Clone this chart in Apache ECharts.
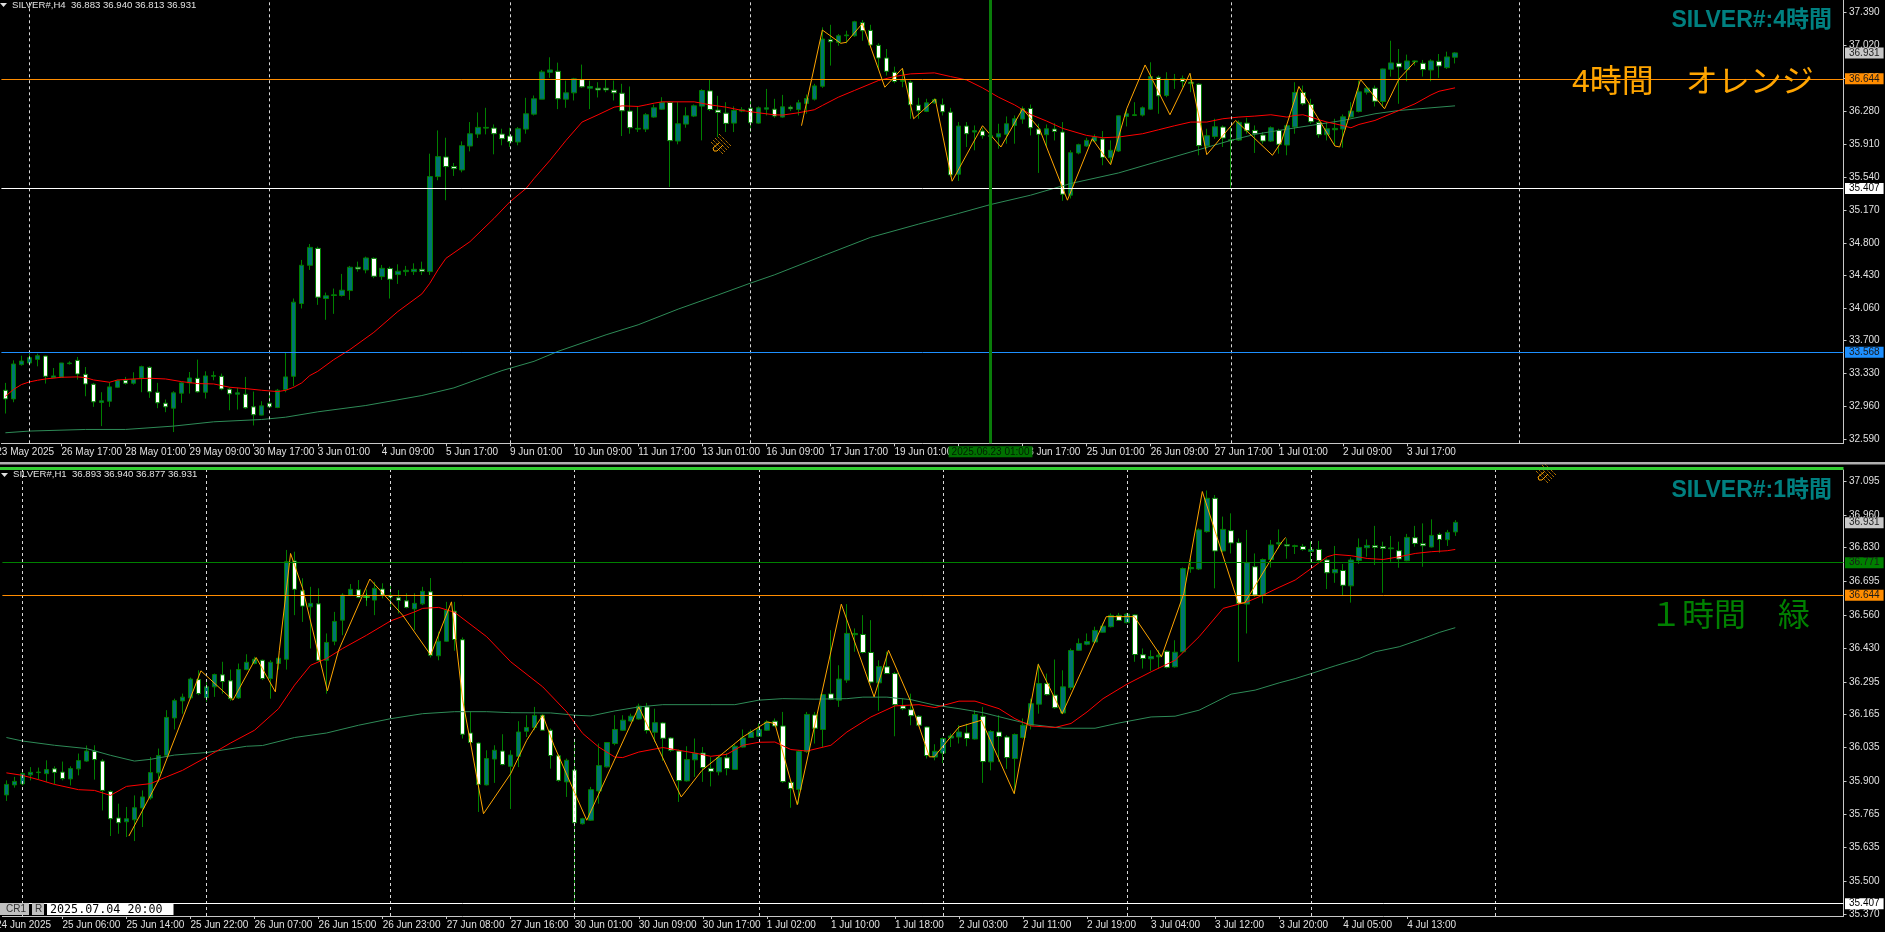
<!DOCTYPE html>
<html><head><meta charset="utf-8"><title>SILVER# H4 / H1</title>
<style>html,body{margin:0;padding:0;background:#000;overflow:hidden}#c{width:1885px;height:932px}</style>
<script src="https://cdn.jsdelivr.net/npm/echarts@6/dist/echarts.min.js"></script></head>
<body><div id="c"></div>
<script>
// ---------- H4 candles ----------
const h4Open=[33.144,33.047,33.432,33.450,33.491,33.528,33.286,33.290,33.443,33.480,
33.323,33.212,33.007,33.021,33.178,33.256,33.223,33.282,33.402,33.122,
32.999,32.943,33.111,33.227,33.279,33.122,33.301,33.301,33.156,33.100,
33.100,32.958,32.865,32.999,32.951,33.152,33.301,34.118,34.547,34.737,
34.174,34.208,34.208,34.263,34.525,34.495,34.625,34.420,34.510,34.443,
34.476,34.476,34.502,34.476,35.543,35.763,35.655,35.617,35.886,36.020,
36.087,36.087,36.020,35.998,35.931,36.076,36.244,36.412,36.714,36.725,
36.412,36.483,36.632,36.535,36.535,36.535,36.513,36.479,36.278,36.076,
36.076,36.211,36.300,36.375,35.942,36.132,36.222,36.334,36.505,36.289,
36.255,36.143,36.278,36.311,36.143,36.300,36.300,36.211,36.322,36.296,
36.364,36.412,36.557,37.080,37.050,37.124,37.124,37.270,37.184,37.016,
36.874,36.714,36.613,36.602,36.345,36.274,36.371,36.349,36.266,35.569,
36.110,36.043,36.054,35.994,35.987,36.017,36.117,36.188,36.307,36.076,
36.013,36.076,36.043,35.334,35.808,35.886,35.942,35.964,35.755,35.830,
36.218,36.229,36.233,36.300,36.658,36.453,36.628,36.643,36.602,36.580,
35.886,35.994,36.099,35.946,35.953,36.143,36.061,36.009,35.942,36.061,
35.897,36.099,36.487,36.352,36.151,36.013,36.069,36.076,36.211,36.274,
36.490,36.535,36.386,36.748,36.815,36.744,36.830,36.815,36.740,36.837,36.766,36.883];
const h4Close=[33.047,33.439,33.472,33.510,33.532,33.301,33.305,33.450,33.450,33.327,
33.215,33.014,33.025,33.182,33.253,33.223,33.264,33.409,33.126,33.003,
32.958,33.115,33.227,33.282,33.126,33.305,33.309,33.159,33.104,33.115,
32.947,32.869,32.969,32.958,33.144,33.294,34.133,34.547,34.748,34.189,
34.204,34.215,34.267,34.525,34.506,34.629,34.424,34.513,34.390,34.480,
34.491,34.502,34.480,35.543,35.767,35.655,35.632,35.890,36.024,36.095,
36.095,36.024,35.968,35.935,36.080,36.248,36.416,36.718,36.740,36.416,
36.483,36.640,36.550,36.554,36.516,36.516,36.483,36.281,36.091,36.084,
36.237,36.315,36.375,35.946,36.136,36.225,36.337,36.509,36.296,36.263,
36.140,36.285,36.293,36.147,36.315,36.315,36.222,36.326,36.304,36.371,
36.419,36.561,37.087,37.057,37.124,37.132,37.281,37.180,37.020,36.874,
36.725,36.610,36.621,36.349,36.281,36.371,36.408,36.270,35.562,36.110,
36.024,36.058,36.002,36.005,36.024,36.136,36.192,36.307,36.091,36.017,
36.080,36.050,35.345,35.811,35.901,35.949,35.987,35.759,35.838,36.225,
36.248,36.237,36.315,36.666,36.449,36.636,36.636,36.610,36.587,35.890,
36.002,36.102,35.976,35.957,36.151,36.058,36.024,35.942,36.091,35.905,
36.114,36.487,36.360,36.158,36.013,36.080,36.084,36.214,36.278,36.494,
36.535,36.389,36.751,36.819,36.774,36.841,36.841,36.744,36.841,36.785,36.886,36.931];
const h4High=[33.227,33.480,33.532,33.555,33.555,33.532,33.394,33.450,33.469,33.518,
33.405,33.227,33.122,33.234,33.264,33.294,33.346,33.420,33.413,33.227,
33.040,33.133,33.238,33.349,33.488,33.357,33.357,33.331,33.171,33.171,
33.294,33.130,33.021,33.133,33.159,33.570,34.174,34.607,34.786,34.756,
34.241,34.286,34.450,34.540,34.588,34.644,34.636,34.551,34.532,34.558,
34.540,34.569,34.588,35.800,36.061,35.979,35.696,35.938,36.155,36.263,
36.315,36.128,36.080,36.091,36.099,36.427,36.453,36.740,36.882,36.822,
36.621,36.651,36.800,36.621,36.602,36.628,36.621,36.584,36.554,36.330,
36.255,36.352,36.434,36.386,36.378,36.322,36.352,36.524,36.636,36.449,
36.378,36.330,36.322,36.397,36.330,36.527,36.416,36.460,36.341,36.404,
36.464,36.584,37.218,37.247,37.143,37.180,37.292,37.300,37.247,37.039,
36.975,36.777,36.751,36.621,36.427,36.416,36.423,36.419,36.315,36.155,
36.155,36.117,36.091,36.117,36.136,36.218,36.229,36.330,36.352,36.136,
36.128,36.143,36.155,35.838,35.912,35.979,36.017,36.054,35.949,36.229,
36.304,36.378,36.330,36.826,36.677,36.714,36.695,36.677,36.688,36.591,
36.080,36.192,36.117,36.099,36.173,36.203,36.117,36.043,36.106,36.080,
36.117,36.602,36.565,36.416,36.173,36.155,36.192,36.240,36.378,36.621,
36.554,36.565,36.755,37.068,36.975,36.912,36.845,36.852,36.860,36.919,36.945,36.940];
const h4Low=[32.883,33.010,33.420,33.443,33.413,33.219,33.282,33.282,33.432,33.264,
33.077,32.958,32.742,32.958,33.171,33.208,33.208,33.122,33.059,32.943,
32.898,32.675,33.003,33.107,33.115,33.051,33.256,33.144,32.920,32.928,
32.936,32.749,32.861,32.947,32.943,33.122,33.189,34.062,34.495,34.103,
33.935,34.002,34.196,34.159,34.476,34.457,34.402,34.383,34.174,34.338,
34.428,34.439,34.439,34.439,35.502,35.278,35.550,35.591,35.826,35.976,
36.017,35.793,35.894,35.875,35.894,36.024,36.229,36.412,36.651,36.300,
36.315,36.397,36.539,36.300,36.431,36.490,36.397,35.998,36.024,36.043,
36.043,36.203,36.293,35.427,35.905,36.091,36.211,35.949,36.278,35.987,
36.043,36.043,36.266,36.043,36.136,36.229,36.203,36.203,36.278,36.229,
36.248,36.397,36.539,36.789,37.012,37.039,37.113,37.068,36.994,36.751,
36.677,36.591,36.546,36.192,36.192,36.266,36.360,36.229,35.539,35.494,
35.875,35.838,35.968,35.875,35.856,35.912,35.912,36.136,36.005,35.584,
35.875,35.949,35.271,35.297,35.793,35.875,35.931,35.670,35.688,35.819,
36.106,36.222,36.218,36.293,36.248,36.434,36.527,36.546,36.490,35.782,
35.856,35.968,35.875,35.409,35.942,36.024,35.808,35.912,35.931,35.800,
35.782,36.024,36.341,36.136,35.979,35.949,35.894,35.867,36.203,36.263,
36.464,36.330,36.322,36.666,36.360,36.613,36.789,36.666,36.613,36.651,36.751,36.813];
// ---------- H1 candles ----------
const h1Open=[35.844,35.884,35.888,35.924,35.933,35.929,35.948,35.935,35.908,35.948,
35.979,36.018,35.979,35.858,35.752,35.737,35.745,35.792,35.832,35.932,
36.002,36.151,36.219,36.231,36.304,36.232,36.275,36.323,36.299,36.231,
36.344,36.368,36.381,36.308,36.368,36.385,36.777,36.658,36.594,36.606,
36.381,36.457,36.541,36.641,36.662,36.632,36.621,36.665,36.640,36.630,
36.618,36.586,36.606,36.654,36.399,36.457,36.577,36.463,36.091,36.051,
35.884,35.987,36.019,35.958,35.998,36.098,36.113,36.162,36.102,36.000,
35.896,35.943,35.729,35.743,35.860,35.956,36.049,36.102,36.139,36.147,
36.195,36.094,36.131,36.071,36.019,35.900,35.984,36.011,35.950,35.936,
35.992,35.946,36.035,36.073,36.078,36.102,36.138,36.119,35.894,35.866,
36.017,36.163,36.105,36.247,36.222,36.302,36.483,36.484,36.412,36.291,
36.355,36.328,36.199,36.184,36.158,36.115,35.995,36.011,36.071,36.075,
36.091,36.067,36.158,35.976,36.095,36.075,35.989,36.073,36.122,36.206,
36.288,36.242,36.171,36.272,36.421,36.445,36.454,36.493,36.515,36.560,
36.531,36.562,36.403,36.387,36.395,36.417,36.355,36.415,36.746,36.745,
36.894,37.027,36.817,36.898,36.850,36.605,36.754,36.641,36.783,36.845,
36.842,36.835,36.835,36.815,36.823,36.781,36.730,36.739,36.678,36.779,
36.830,36.838,36.834,36.826,36.818,36.778,36.870,36.846,36.833,36.883,36.862,36.893];
const h1Close=[35.886,35.898,35.929,35.934,35.935,35.945,35.934,35.909,35.949,35.981,
36.019,35.985,35.862,35.749,35.733,35.749,35.793,35.836,35.933,36.001,
36.153,36.220,36.234,36.306,36.248,36.275,36.324,36.296,36.228,36.344,
36.373,36.385,36.308,36.373,36.389,36.774,36.664,36.597,36.608,36.381,
36.452,36.536,36.641,36.664,36.632,36.634,36.668,36.641,36.633,36.620,
36.592,36.608,36.656,36.401,36.457,36.581,36.464,36.086,36.053,35.886,
35.989,36.022,35.965,36.003,36.095,36.113,36.161,36.102,36.001,35.902,
35.982,35.733,35.749,35.865,35.961,36.053,36.105,36.142,36.158,36.198,
36.101,36.132,36.070,36.022,35.901,35.985,36.010,35.953,35.938,35.993,
35.949,36.038,36.071,36.095,36.105,36.135,36.119,35.897,35.869,36.017,
36.165,36.110,36.244,36.226,36.306,36.488,36.488,36.412,36.294,36.356,
36.328,36.204,36.188,36.160,36.122,36.001,36.018,36.069,36.079,36.095,
36.069,36.165,35.977,36.097,36.077,35.993,36.085,36.122,36.208,36.288,
36.244,36.192,36.275,36.420,36.448,36.456,36.500,36.517,36.560,36.540,
36.565,36.404,36.388,36.396,36.401,36.353,36.413,36.747,36.751,36.901,
37.027,36.817,36.903,36.849,36.608,36.770,36.641,36.783,36.841,36.850,
36.837,36.838,36.823,36.823,36.779,36.730,36.743,36.680,36.781,36.831,
36.839,36.831,36.827,36.829,36.785,36.871,36.847,36.838,36.879,36.863,36.891,36.931];
const h1High=[35.902,35.916,35.935,35.955,35.953,35.982,35.958,35.977,35.958,36.009,
36.041,36.042,35.987,35.862,35.809,35.796,35.842,35.862,35.995,36.029,
36.182,36.228,36.248,36.312,36.341,36.302,36.328,36.375,36.344,36.368,
36.405,36.395,36.384,36.381,36.395,36.821,36.814,36.708,36.674,36.668,
36.488,36.574,36.648,36.685,36.701,36.664,36.694,36.688,36.677,36.661,
36.648,36.648,36.674,36.709,36.495,36.614,36.614,36.472,36.175,36.055,
36.022,36.042,36.086,36.022,36.138,36.162,36.195,36.166,36.109,36.006,
35.989,36.069,35.753,35.876,36.049,36.055,36.162,36.162,36.168,36.208,
36.211,36.188,36.135,36.075,36.025,36.038,36.069,36.035,35.995,36.002,
36.011,36.046,36.105,36.105,36.129,36.142,36.149,36.175,35.902,36.022,
36.175,36.175,36.246,36.501,36.361,36.605,36.508,36.561,36.541,36.381,
36.415,36.335,36.228,36.248,36.162,36.118,36.046,36.073,36.089,36.122,
36.128,36.182,36.195,36.102,36.162,36.082,36.089,36.149,36.228,36.368,
36.328,36.384,36.341,36.428,36.468,36.488,36.515,36.528,36.568,36.570,
36.570,36.565,36.428,36.421,36.421,36.421,36.461,36.751,36.787,36.907,
37.058,37.040,36.954,36.967,36.867,36.901,36.807,36.787,36.861,36.903,
36.867,36.842,36.845,36.854,36.857,36.787,36.837,36.765,36.791,36.867,
36.863,36.917,36.854,36.877,36.854,36.885,36.917,36.927,36.943,36.890,36.901,36.940];
const h1Low=[35.820,35.873,35.882,35.902,35.905,35.896,35.886,35.902,35.882,35.922,
35.976,35.905,35.782,35.680,35.689,35.676,35.660,35.716,35.825,35.896,
35.995,36.105,36.168,36.224,36.242,36.215,36.235,36.248,36.219,36.227,
36.341,36.365,36.302,36.228,36.344,36.344,36.561,36.534,36.428,36.375,
36.248,36.441,36.481,36.637,36.628,36.597,36.561,36.628,36.588,36.568,
36.588,36.501,36.601,36.392,36.381,36.455,36.419,36.069,36.049,35.776,
35.882,35.892,35.962,35.788,35.955,36.075,36.102,36.099,35.949,35.896,
35.836,35.407,35.726,35.740,35.809,35.953,36.042,36.099,36.135,36.144,
36.089,36.055,35.980,36.015,35.816,35.897,35.916,35.896,35.878,35.922,
35.922,35.945,36.033,36.071,36.075,36.099,36.118,35.892,35.793,35.809,
36.011,36.049,36.035,36.222,36.195,36.291,36.415,36.408,36.288,36.179,
36.326,36.078,36.182,36.122,36.118,35.989,35.982,35.971,36.035,36.049,
36.038,36.065,35.892,35.942,35.976,35.948,35.849,36.069,36.105,36.168,
36.240,36.188,36.166,36.262,36.419,36.441,36.451,36.491,36.512,36.539,
36.528,36.375,36.348,36.339,36.348,36.348,36.352,36.411,36.730,36.741,
36.890,36.668,36.814,36.807,36.375,36.488,36.634,36.608,36.751,36.827,
36.786,36.805,36.818,36.774,36.774,36.665,36.690,36.641,36.611,36.765,
36.794,36.761,36.650,36.774,36.750,36.776,36.834,36.754,36.831,36.810,36.837,36.877];
// ---------- H4 moving averages and zigzag (bar index, price) ----------
const h4RedBars=[0,1,2,3,4,5,7,9,10,11,13,14,16,18,20,22,24,26,28,30,32,34,35,36,37,38,39,41,43,46,49,52,53,54,55,58,61,63,65,66,68,70,72,74,76,77,79,80,81,82,86,88,90,92,94,96,97,99,101,102,104,106,109,111,113,116,118,120,122,124,126,128,130,132,135,137,139,142,144,146,148,150,152,154,156,158,160,161,162,163,164,165,166,167,168,169,171,172,174,176,178,179,181];
const h4RedVals=[33.077,33.152,33.208,33.238,33.256,33.271,33.290,33.294,33.286,33.260,33.234,33.260,33.271,33.279,33.271,33.241,33.219,33.215,33.178,33.163,33.144,33.129,33.144,33.178,33.227,33.309,33.357,33.488,33.600,33.794,34.028,34.226,34.346,34.495,34.625,34.812,35.073,35.260,35.409,35.520,35.726,35.949,36.155,36.237,36.322,36.337,36.330,36.348,36.367,36.382,36.382,36.348,36.322,36.285,36.259,36.237,36.233,36.259,36.293,36.341,36.434,36.509,36.621,36.666,36.696,36.707,36.666,36.628,36.539,36.434,36.348,36.240,36.166,36.084,36.005,35.979,35.987,36.024,36.069,36.114,36.155,36.155,36.192,36.211,36.222,36.237,36.211,36.229,36.237,36.211,36.181,36.155,36.136,36.114,36.091,36.128,36.173,36.211,36.285,36.360,36.460,36.501,36.539];
const h4GreenBars=[0,3,10,15,21,26,32,35,39,45,52,56,62,66,69,75,79,84,89,93,96,102,108,114,119,123,128,133,139,144,148,153,156,159,163,167,171,174,178,181];
const h4GreenVals=[32.667,32.686,32.704,32.704,32.742,32.790,32.816,32.842,32.902,32.973,33.085,33.171,33.365,33.469,33.581,33.767,33.879,34.055,34.215,34.346,34.439,34.651,34.860,35.009,35.129,35.229,35.334,35.465,35.584,35.715,35.819,35.949,36.017,36.061,36.117,36.173,36.248,36.285,36.315,36.337];
const h4ZigBars=[99.4,102,104.3,105,107,109.8,112,113.4,116.1,118.2,122,124.3,127,129.1,132.6,135.7,138,140,142.3,145.4,147.9,150,153.6,158.2,159.3,161.5,166,166.6,169.2,172.2,174,176];
const h4ZigVals=[36.114,37.188,37.039,37.050,37.262,36.546,36.759,36.192,36.412,35.491,36.114,35.875,36.304,36.080,35.278,35.968,35.677,36.304,36.796,36.237,36.703,35.789,36.173,35.782,35.931,36.554,35.886,35.875,36.632,36.304,36.639,36.833];
// ---------- H1 moving averages and zigzag ----------
const h1RedBars=[0,2,4,6,9,11,13,15,18,20,22,25,28,31,34,36,38,40,42,45,48,51,52,54,56,60,63,67,70,72,74,76,77,79,82,84,86,88,90,92,94,96,98,100,103,105,108,111,114,116,119,121,124,126,128,131,133,135,137,140,143,146,149,152,155,157,159,161,163,165,166,168,170,172,174,176,178,180,181];
const h1RedVals=[35.932,35.922,35.905,35.886,35.865,35.862,35.842,35.878,35.889,35.916,35.942,35.995,36.051,36.102,36.188,36.282,36.361,36.388,36.428,36.481,36.538,36.574,36.588,36.592,36.572,36.475,36.375,36.275,36.175,36.089,36.035,35.995,35.993,36.015,36.033,36.022,36.011,35.998,36.006,36.042,36.054,36.055,36.025,36.019,36.042,36.095,36.155,36.199,36.204,36.192,36.218,36.218,36.188,36.148,36.119,36.113,36.129,36.175,36.228,36.286,36.335,36.381,36.475,36.588,36.614,36.641,36.672,36.701,36.747,36.794,36.803,36.798,36.787,36.783,36.794,36.807,36.814,36.818,36.823];
const h1GreenBars=[0,2,6,10,13,16,18,21,25,30,32,36,40,44,48,52,56,60,63,68,71,73,76,79,82,88,91,94,97,101,105,107,110,113,116,119,122,125,128,132,136,139,143,146,149,153,156,159,161,163,166,169,171,174,177,179,181];
const h1GreenVals=[36.073,36.059,36.042,36.029,36.002,35.979,35.986,36.003,36.013,36.038,36.041,36.073,36.091,36.122,36.148,36.168,36.176,36.176,36.172,36.171,36.162,36.159,36.179,36.195,36.204,36.204,36.204,36.222,36.228,36.226,36.228,36.234,36.234,36.224,36.202,36.188,36.172,36.148,36.125,36.110,36.110,36.131,36.155,36.158,36.182,36.246,36.262,36.291,36.308,36.328,36.359,36.388,36.415,36.435,36.468,36.492,36.511];
const h1ZigBars=[15.3,19,21.1,24.3,28.3,31.2,33.6,34.1,35.5,37,40.1,41.5,45.4,49.5,53,55.6,57,59.6,63,65,67,68.4,72.5,79,84.3,86.9,92,95,96,98.8,104.3,108.4,110.2,112.9,115.3,115.9,119,121.8,125.9,128.9,131.9,137.4,140.9,144.3,147.1,149.4,153.9,154.7,159.2,159.8];
const h1ZigVals=[35.680,35.902,36.075,36.339,36.222,36.392,36.255,36.421,36.807,36.668,36.259,36.421,36.705,36.561,36.402,36.614,36.222,35.769,35.929,36.062,36.162,36.042,35.743,36.195,35.836,35.942,36.075,36.135,36.129,35.805,36.605,36.235,36.421,36.222,35.996,35.996,36.115,36.142,35.849,36.365,36.168,36.555,36.555,36.395,36.648,37.054,36.608,36.610,36.847,36.871];
// ---------- tick labels ----------
const h4TimeFirst='23 May 2025', h1TimeFirst='24 Jun 2025';
const h4TimeLabels=['26 May 17:00','28 May 01:00','29 May 09:00','30 May 17:00','3 Jun 01:00','4 Jun 09:00','5 Jun 17:00','9 Jun 01:00','10 Jun 09:00','11 Jun 17:00','13 Jun 01:00','16 Jun 09:00','17 Jun 17:00','19 Jun 01:00','20 Jun 09:00','23 Jun 17:00','25 Jun 01:00','26 Jun 09:00','27 Jun 17:00','1 Jul 01:00','2 Jul 09:00','3 Jul 17:00'];
const h1TimeLabels=['25 Jun 06:00','25 Jun 14:00','25 Jun 22:00','26 Jun 07:00','26 Jun 15:00','26 Jun 23:00','27 Jun 08:00','27 Jun 16:00','30 Jun 01:00','30 Jun 09:00','30 Jun 17:00','1 Jul 02:00','1 Jul 10:00','1 Jul 18:00','2 Jul 03:00','2 Jul 11:00','2 Jul 19:00','3 Jul 04:00','3 Jul 12:00','3 Jul 20:00','4 Jul 05:00','4 Jul 13:00'];
const h4PriceTicks=[37.39,37.02,36.65,36.28,35.91,35.54,35.17,34.80,34.43,34.06,33.70,33.33,32.96,32.59];
const h1PriceTicks=[37.095,36.96,36.83,36.695,36.56,36.43,36.295,36.165,36.035,35.90,35.765,35.635,35.50,35.37];
// ---------- levels ----------
const h4GridBars=[3,33,63,93,153,189];
const h1GridBars=[2,25,48,71,94,117,140,163,186];
const h4Levels=[{v:33.568,c:'#1e90ff'},{v:35.407,c:'#ffffff'},{v:36.644,c:'#ff8c00'}];
const h1Levels=[{v:35.407,c:'#ffffff'},{v:36.644,c:'#ff8c00'},{v:36.771,c:'#008000'}];
const lastPrice=36.931, markerBar=123, markerText='2025.06.23 01:00';

const GREY='#c8c8c8', LABEL='#e0e0e0', TF="'Liberation Sans',sans-serif", CJK="'Liberation Sans','Noto Sans CJK JP',sans-serif";
const N=230, FS=10;
const zip=(a,b)=>a.map((x,i)=>[x,b[i]]);
function cats(labels){const a=new Array(N).fill('');labels.forEach((l,j)=>a[7+8*j]=l);return a;}
function xCat(grid,labels){
  const show=i=>i>=7&&(i-7)%8===0&&(i-7)/8<labels.length;
  return {type:'category',gridIndex:grid,data:cats(labels),boundaryGap:true,
    axisLine:{lineStyle:{color:GREY,width:1}},splitLine:{show:false},
    axisTick:{show:true,alignWithLabel:true,interval:show,length:3,lineStyle:{color:GREY}},
    axisLabel:{show:true,interval:show,align:'left',margin:4,color:LABEL,fontSize:FS,fontFamily:TF,hideOverlap:false}};
}
const xBar=g=>({type:'value',gridIndex:g,min:-0.5,max:229.5,show:false,scale:true,splitLine:{show:false}});
function yAx(grid,min,max,ticks){
  return {type:'value',gridIndex:grid,position:'right',min,max,scale:true,splitLine:{show:false},
    axisLine:{show:true,onZero:false,lineStyle:{color:GREY,width:1}},
    axisTick:{show:true,length:3,customValues:ticks,lineStyle:{color:GREY}},
    axisLabel:{show:true,customValues:ticks,margin:5.5,color:LABEL,fontSize:FS,fontFamily:TF,formatter:v=>v.toFixed(3),showMinLabel:true,showMaxLabel:true}};
}
function pane(g,xCatIdx,xBarIdx,o,c,l,h,red,redV,grn,grnV,zig,zigV,gridBars,levels){
  const base={xAxisIndex:xBarIdx,yAxisIndex:g,animation:false,silent:true};
  const tag=(v,bg,fg)=>({show:true,position:'end',distance:1.5,formatter:v.toFixed(3),backgroundColor:bg,color:fg,
      fontSize:FS,fontFamily:TF,padding:[1,4,0,4]});
  return [
   {...base,type:'line',data:[],z:1,markLine:{silent:true,animation:false,symbol:'none',label:{show:false},
     lineStyle:{color:'#d8d8d8',width:1,type:[3,3]},data:gridBars.map(b=>({xAxis:b}))}},
   {type:'candlestick',xAxisIndex:xCatIdx,yAxisIndex:g,animation:false,silent:true,z:2,barWidth:5,
     data:o.map((v,i)=>[v,c[i],l[i],h[i]]),
     itemStyle:{color:'#007373',color0:'#ffffff',borderColor:'#008000',borderColor0:'#008000',borderColorDoji:'#008000',borderWidth:1}},
   {...base,type:'line',data:zip(grn,grnV),z:3,symbol:'none',lineStyle:{color:'#2e8b57',width:1}},
   {...base,type:'line',data:zip(red,redV),z:3,symbol:'none',lineStyle:{color:'#ff0000',width:1}},
   {...base,type:'line',data:zip(zig,zigV),z:4,symbol:'none',lineStyle:{color:'#ffa500',width:1}},
   {...base,type:'line',data:[],z:5,markLine:{silent:true,animation:false,symbol:'none',
     data:[...levels.map(L=>({yAxis:L.v,lineStyle:{color:L.c,width:1,type:'solid'},label:tag(L.v,L.c,L.c==='#ffffff'?'#000':'#1a1a1a')})),
       {yAxis:lastPrice,lineStyle:{color:'rgba(0,0,0,0)',width:1},label:tag(lastPrice,'#c8c8c8','#222')}]}}
  ];
}
const series=[
 ...pane(0,0,2,h4Open,h4Close,h4Low,h4High,h4RedBars,h4RedVals,h4GreenBars,h4GreenVals,h4ZigBars,h4ZigVals,h4GridBars,h4Levels),
 ...pane(1,1,3,h1Open,h1Close,h1Low,h1High,h1RedBars,h1RedVals,h1GreenBars,h1GreenVals,h1ZigBars,h1ZigVals,h1GridBars,h1Levels),
 {xAxisIndex:2,yAxisIndex:0,type:'line',data:[],z:3,animation:false,silent:true,markLine:{silent:true,animation:false,symbol:'none',
   data:[{xAxis:markerBar,lineStyle:{color:'#0a7d0a',width:3,type:'solid'},
     label:{show:true,position:'start',distance:3,formatter:markerText,backgroundColor:'#007000',color:'#001e00',fontSize:FS,fontFamily:TF,padding:[1,3,0,3]}}]}}
];
const txt=(x,y,text,fill,font,extra)=>({type:'text',x,y,z:20,silent:true,style:{text,fill,font,textVerticalAlign:'middle',...(extra||{})}});
const pencil=(cx,cy)=>({type:'group',x:cx,y:cy,z:20,silent:true,children:[
  ...[-4,-2,0,2,4].map(d=>({type:'line',shape:{x1:-6+d,y1:-6-d,x2:6+d,y2:6-d},style:{stroke:'#ffa500',lineWidth:1,lineDash:[1,1]}})),
  {type:'polyline',shape:{points:[[-2,-1],[-8,4],[-7,7],[-4,7],[2,1]]},style:{stroke:'#ffa500',lineWidth:1,fill:'none'}}]});
const graphic=[
 {type:'rect',shape:{x:0,y:462,width:1885,height:2.5},style:{fill:'#b0b0b0'},z:20,silent:true},
 {type:'rect',shape:{x:0,y:467,width:1843.5,height:3},style:{fill:'#32cd32'},z:20,silent:true},
 {type:'polygon',shape:{points:[[0,3],[7,3],[3.5,7]]},style:{fill:'#e0e0e0'},z:20,silent:true},
 {type:'polygon',shape:{points:[[1,473],[8,473],[4.5,477]]},style:{fill:'#e0e0e0'},z:20,silent:true},
 txt(12,5,'SILVER#,H4  36.883 36.940 36.813 36.931',LABEL,'9.6px '+TF),
 txt(13,474,'SILVER#,H1  36.893 36.940 36.877 36.931',LABEL,'9.6px '+TF),
 txt(-3.7,452.5,h4TimeFirst,LABEL,FS+'px '+TF),
 txt(-4,925.5,h1TimeFirst,LABEL,FS+'px '+TF),
 txt(1832,21,'SILVER#:4時間','#008080','bold 23px '+CJK,{textAlign:'right'}),
 txt(1832,491,'SILVER#:1時間','#008080','bold 23px '+CJK,{textAlign:'right'}),
 txt(1572,83,'4時間　オレンジ','#ffa500','32px '+CJK),
 txt(1650,617,'１時間　緑','#008000','32px '+CJK),
 pencil(721,144), pencil(1546,473),
 {type:'line',shape:{x1:363,y1:597,x2:370,y2:597},style:{stroke:'#32e632'},z:20,silent:true},
 {type:'line',shape:{x1:366.5,y1:593.5,x2:366.5,y2:600.5},style:{stroke:'#32e632'},z:20,silent:true},
 {type:'rect',shape:{x:0,y:903,width:29,height:12},style:{fill:'#c0c0c0'},z:20,silent:true},
 txt(6,909.5,'CR1','#333',FS+'px '+TF),
 {type:'rect',shape:{x:32,y:903,width:12,height:12},style:{fill:'#c0c0c0'},z:20,silent:true},
 txt(35,909.5,'R','#333',FS+'px '+TF),
 {type:'rect',shape:{x:47,y:903,width:126.5,height:12},style:{fill:'#ffffff'},z:20,silent:true},
 txt(50,909.5,'2025.07.04 20:00','#000',"11.7px 'DejaVu Sans Mono',monospace")
];
const chart=echarts.init(document.getElementById('c'),null,{width:1885,height:932,renderer:'canvas'});
chart.setOption({
 animation:false,backgroundColor:'#000',
 grid:[{left:1.4,top:0,width:1842.1,height:443.3},{left:2.4,top:470,width:1841.1,height:446}],
 xAxis:[xCat(0,h4TimeLabels),xCat(1,h1TimeLabels),xBar(0),xBar(1)],
 yAxis:[yAx(0,32.5487,37.5252,h4PriceTicks),yAx(1,35.3611,37.1399,h1PriceTicks)],
 series,graphic
});
</script></body></html>
